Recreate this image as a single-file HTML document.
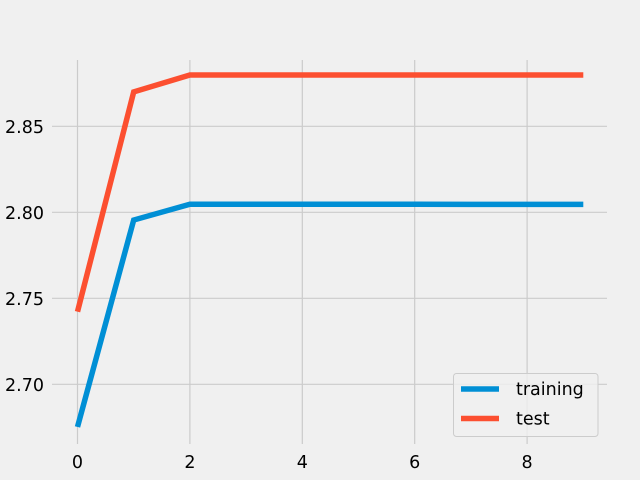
<!DOCTYPE html>
<html><head><meta charset="utf-8"><style>
html,body{margin:0;padding:0;background:#f0f0f0;}
svg{display:block;font-family:"DejaVu Sans","Liberation Sans",sans-serif;}
</style></head><body>
<svg id="chart" width="640" height="480">
<rect width="640" height="480" fill="#f0f0f0"/>
<g id="grid"></g><g id="ticks"></g><g id="series"></g><g id="legend"></g>
</svg>
<script>
const epochs = [0,1,2,3,4,5,6,7,8,9];
const trainingValues = [2.6752,2.7955,2.8047,2.8047,2.8047,2.8047,2.8047,2.8046,2.8046,2.8046];
const testValues = [2.7422,2.8700,2.8798,2.8798,2.8798,2.8798,2.8798,2.8798,2.8798,2.8798];
const xTicks = [0,2,4,6,8];
const yTicks = [2.70,2.75,2.80,2.85];
const seriesNames = ["training","test"];
const seriesColors = ["#008fd5","#fc4f30"];

const NS="http://www.w3.org/2000/svg";
function xs(v){return 77.5+v*56.2;}
function ys(v){return 212.3-(v-2.80)*1720;}
function mk(tag,attrs,parent){const e=document.createElementNS(NS,tag);for(const k in attrs)e.setAttribute(k,attrs[k]);parent.appendChild(e);return e;}
const grid=document.getElementById('grid'),ticks=document.getElementById('ticks'),ser=document.getElementById('series'),leg=document.getElementById('legend');
xTicks.forEach(t=>{
  const l=mk('line',{x1:xs(t),x2:xs(t),y1:60,y2:444,stroke:'#cbcbcb','stroke-width':1.2},grid);
  
  
  const tx=mk('text',{x:xs(t),y:468,'font-size':17.5,'text-anchor':'middle',fill:'#000'},ticks);
  tx.textContent=t;
  
  
});
yTicks.forEach(t=>{
  const l=mk('line',{x1:52,x2:607,y1:ys(t),y2:ys(t),stroke:'#cbcbcb','stroke-width':1.2},grid);
  
  
  const tx=mk('text',{x:44,y:ys(t)+6.5,'font-size':17.5,'text-anchor':'end',fill:'#000'},ticks);
  tx.textContent=t.toFixed(2);
  
  
});
[trainingValues,testValues].forEach((vals,i)=>{
  const p=mk('polyline',{points:vals.map((v,j)=>xs(epochs[j])+','+ys(v)).join(' '),fill:'none',stroke:seriesColors[i],'stroke-width':5.5,'stroke-linejoin':'miter','stroke-linecap':'butt'},ser);
  
  
});
const box=mk('rect',{x:453.5,y:373.5,width:144.5,height:63,rx:3,fill:'#f0f0f0','fill-opacity':0.8,stroke:'#cccccc','stroke-width':1},leg);


seriesNames.forEach((n,i)=>{
  const y=389+i*29.5;
  const l=mk('line',{x1:461,x2:499,y1:y,y2:y,stroke:seriesColors[i],'stroke-width':5.5},leg);
  
  
  const t=mk('text',{x:516,y:y+6,'font-size':17.5,fill:'#000'},leg);
  t.textContent=n;
  
  
});
</script>
</body></html>
